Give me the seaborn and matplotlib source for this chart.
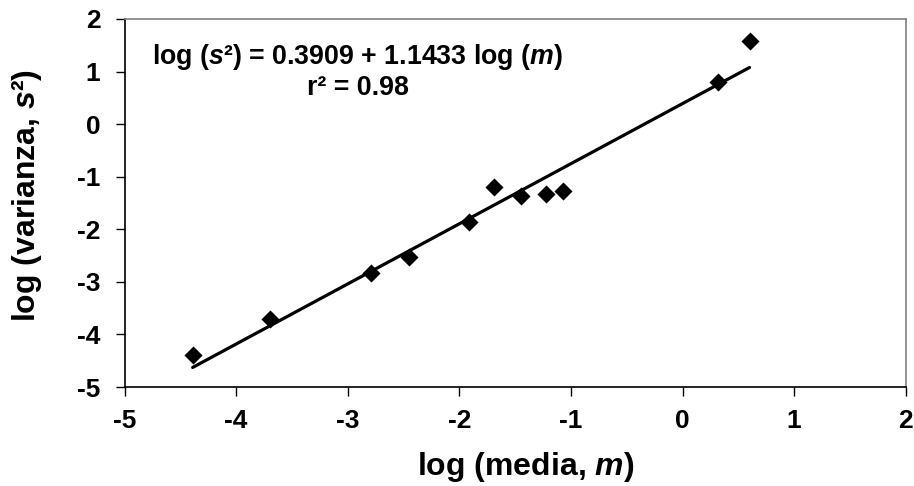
"""
Log-variance vs log-mean scatter with Taylor power-law fit.
"""
import numpy as np
import pandas as pd
import matplotlib
matplotlib.use("Agg")
import matplotlib.pyplot as plt
import seaborn as sns

# ─────────────────────────────────────────────
# Data
# ─────────────────────────────────────────────
LOG_MEDIA = [-4.39, -3.70, -2.79, -2.45, -1.91, -1.69, -1.45, -1.22, -1.07, 0.32, 0.60]
LOG_VAR   = [-4.39, -3.70, -2.84, -2.53, -1.87, -1.19, -1.36, -1.33, -1.28, 0.80, 1.59]

INTERCEPT = 0.3909
SLOPE     = 1.1433
R2        = 0.98

X_TICKS = [-5, -4, -3, -2, -1, 0, 1, 2]
Y_TICKS = [-5, -4, -3, -2, -1, 0, 1, 2]

# ─────────────────────────────────────────────
# Style
# ─────────────────────────────────────────────
sns.set_style("white")
plt.rcParams["font.family"] = ["Liberation Sans", "DejaVu Sans"]
plt.rcParams["font.weight"] = "bold"
plt.rcParams["text.color"] = "black"
plt.rcParams["axes.labelcolor"] = "black"
plt.rcParams["axes.unicode_minus"] = False
plt.rcParams["mathtext.fontset"] = "custom"
plt.rcParams["mathtext.rm"] = "Liberation Sans:bold"
plt.rcParams["mathtext.it"] = "Liberation Sans:italic:bold"
plt.rcParams["mathtext.bf"] = "Liberation Sans:bold"

df = pd.DataFrame({"x": LOG_MEDIA, "y": LOG_VAR})
fit = pd.DataFrame({"x": [min(LOG_MEDIA), max(LOG_MEDIA)]})
fit["y"] = INTERCEPT + SLOPE * fit["x"]

fig = plt.figure(figsize=(9.14, 4.86), dpi=100)
ax = fig.add_axes([0.1363, 0.2037, 0.991 - 0.1363, 0.961 - 0.2037])

sns.lineplot(data=fit, x="x", y="y", ax=ax, color="black", linewidth=2.3)
sns.scatterplot(data=df, x="x", y="y", ax=ax, marker="D", s=85,
                color="black", edgecolor="black", linewidth=0, zorder=3)

ax.set_xlim(-5, 2)
ax.set_ylim(-5, 2)
ax.set_xticks(X_TICKS)
ax.set_yticks(Y_TICKS)
ax.tick_params(axis="both", direction="out", length=6.5, width=1.0,
               colors="black", labelsize=19, left=True, bottom=True)
for lab in ax.get_xticklabels() + ax.get_yticklabels():
    lab.set_fontweight("bold")
ax.tick_params(axis="x", pad=9)
ax.tick_params(axis="y", pad=11)

for side in ["left", "bottom"]:
    ax.spines[side].set_color("black")
    ax.spines[side].set_linewidth(1.2)
for side in ["top", "right"]:
    ax.spines[side].set_color("#808080")
    ax.spines[side].set_linewidth(1.2)

ax.set_xlabel(r"log (media, $\mathit{m}$)", fontsize=23, fontweight="bold")
ax.set_ylabel(r"log (varianza, $\mathit{s}$²)", fontsize=23, fontweight="bold")
ax.xaxis.label.set_verticalalignment("baseline")
ax.xaxis.set_label_coords(0.513, -0.238)
ax.yaxis.set_label_coords(-0.103, 0.519)

ax.text(-2.91, 1.14,
        rf"log ($\mathit{{s}}$²) = {INTERCEPT} + {SLOPE} log ($\mathit{{m}}$)",
        ha="center", va="baseline", fontsize=19.3, fontweight="bold")
ax.text(-2.91, 0.55, f"r² = {R2}", ha="center", va="baseline",
        fontsize=19.3, fontweight="bold")

fig.savefig("out.png", dpi=100)
